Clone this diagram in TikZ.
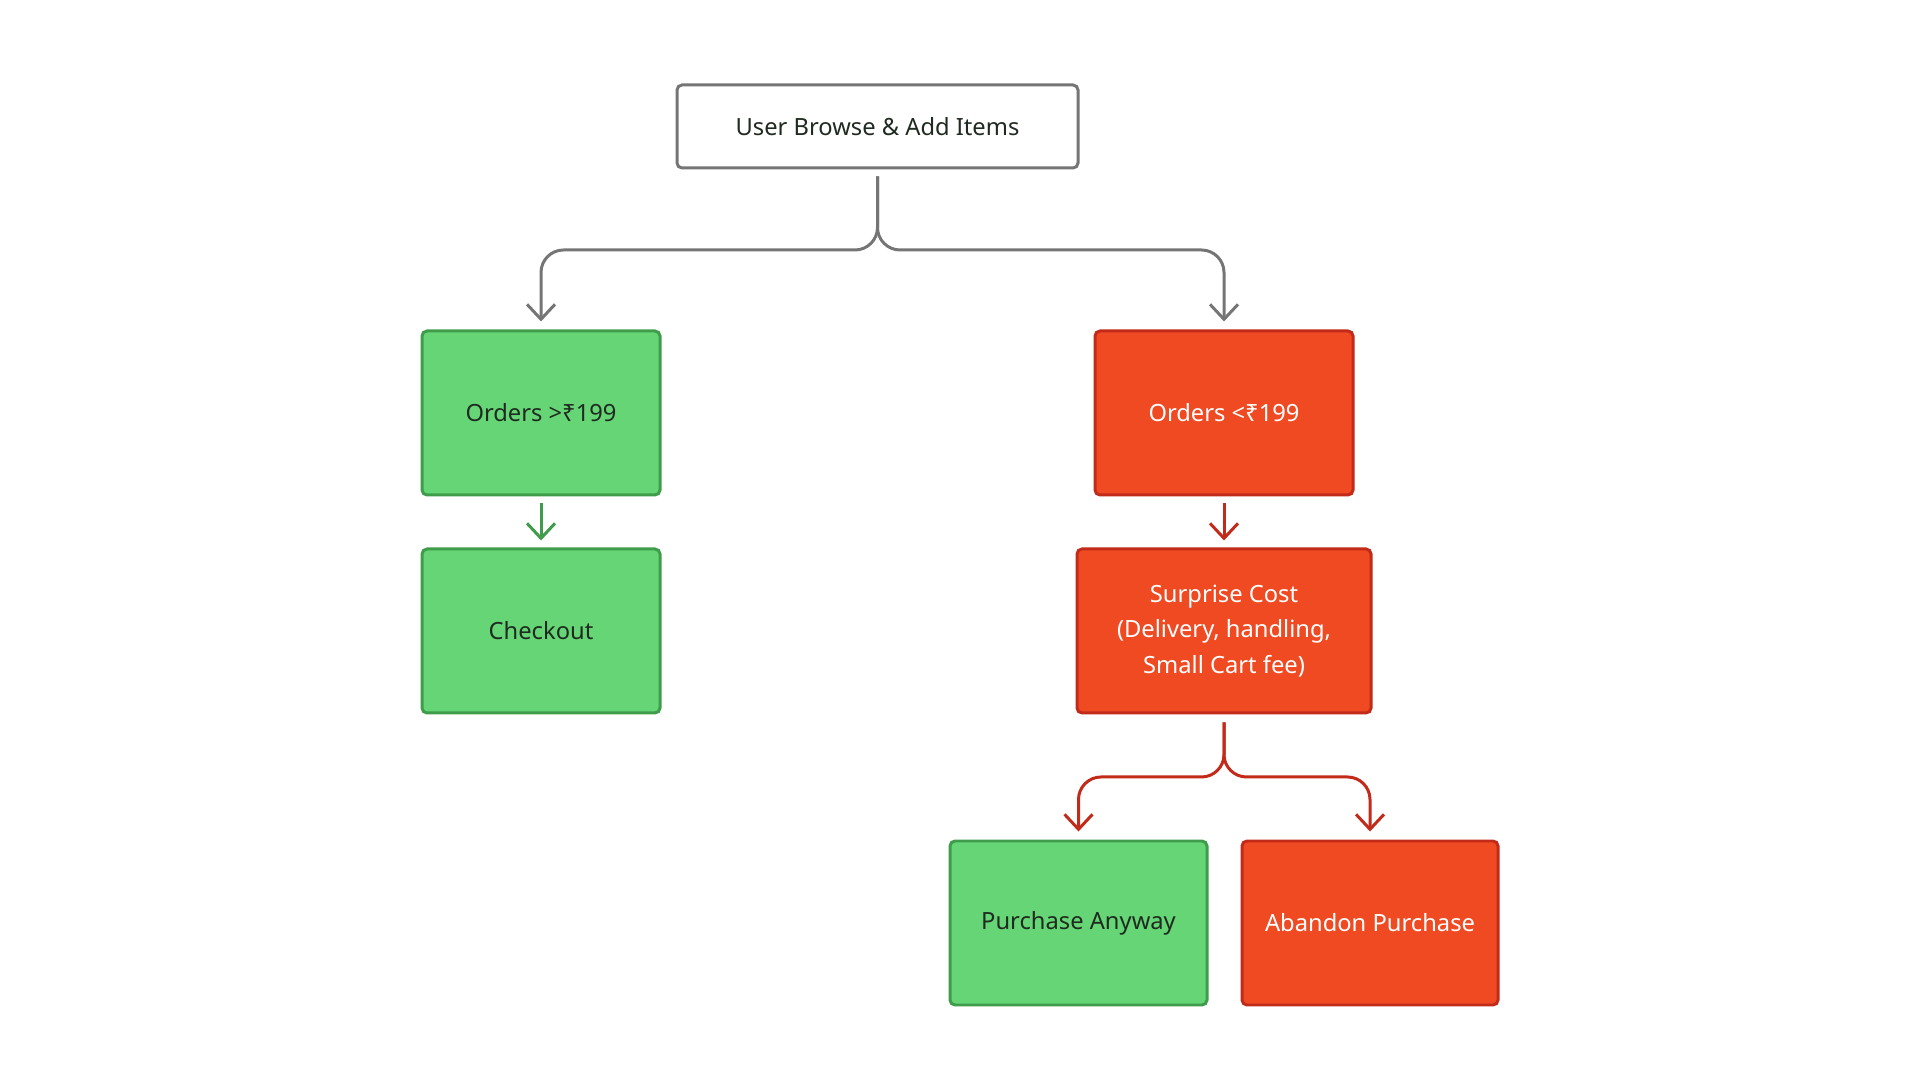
\documentclass[tikz,border=0pt]{standalone}
\usepackage{fontspec}
\setmainfont{Noto Sans}
\usetikzlibrary{arrows.meta,positioning}
\definecolor{neutral}{HTML}{757575}
\definecolor{ink}{HTML}{1F2A20}
\definecolor{passfill}{HTML}{66D575}
\definecolor{passline}{HTML}{3F9C4B}
\definecolor{failfill}{HTML}{F04A23}
\definecolor{failline}{HTML}{C22A1A}
\tikzset{
  flowbox/.style={draw=neutral, fill=white, rounded corners=1mm, line width=1.7pt,
    align=center, inner sep=0pt, minimum height=3.28cm, text=ink,
    font=\fontsize{13.5}{20}\selectfont},
  greenbox/.style={flowbox, draw=passline, fill=passfill},
  warmbox/.style={flowbox, draw=failline, fill=failfill, text=white},
  arr/.style={-{Straight Barb[length=3mm,width=5.6mm]}, line width=1.7pt,
    draw=neutral, rounded corners=0.45cm},
  greenarr/.style={arr, draw=passline},
  warmarr/.style={arr, draw=failline}
}
\begin{document}
\begin{tikzpicture}[x=1cm,y=1cm]
  \useasboundingbox (0,0) rectangle (38.4,21.6);
  \node[flowbox, minimum width=8.02cm, minimum height=1.66cm] (browse) at (17.55,19.07)
    {User Browse \& Add Items};
  \node[greenbox, minimum width=4.76cm] (above) at (10.82,13.34) {Orders >₹199};
  \node[greenbox, minimum width=4.76cm] (checkout) at (10.82,8.98) {Checkout};
  \node[warmbox, minimum width=5.16cm] (below) at (24.48,13.34) {Orders <₹199};
  \node[warmbox, minimum width=5.88cm] (surprise) at (24.48,8.98)
    {Surprise Cost\\(Delivery, handling,\\Small Cart fee)};
  \node[greenbox, minimum width=5.14cm] (anyway) at (21.57,3.14) {Purchase Anyway};
  \node[warmbox, minimum width=5.12cm] (abandon) at (27.4,3.14) {Abandon Purchase};

  % forks
  \coordinate (fork) at (17.55,16.6);
  \coordinate (fork2) at (24.48,6.06);

  \draw[arr] ([yshift=-1.4mm]browse.south) -- (fork) -| ([yshift=1.6mm]above.north);
  \draw[arr] ([yshift=-1.4mm]browse.south) -- (fork) -| ([yshift=1.6mm]below.north);
  \draw[greenarr] ([yshift=-1.4mm]above.south) -- ([yshift=1.4mm]checkout.north);
  \draw[warmarr] ([yshift=-1.4mm]below.south) -- ([yshift=1.4mm]surprise.north);
  \draw[warmarr] ([yshift=-1.6mm]surprise.south) -- (fork2) -| ([yshift=1.6mm]anyway.north);
  \draw[warmarr] ([yshift=-1.6mm]surprise.south) -- (fork2) -| ([yshift=1.6mm]abandon.north);
\end{tikzpicture}
\end{document}
